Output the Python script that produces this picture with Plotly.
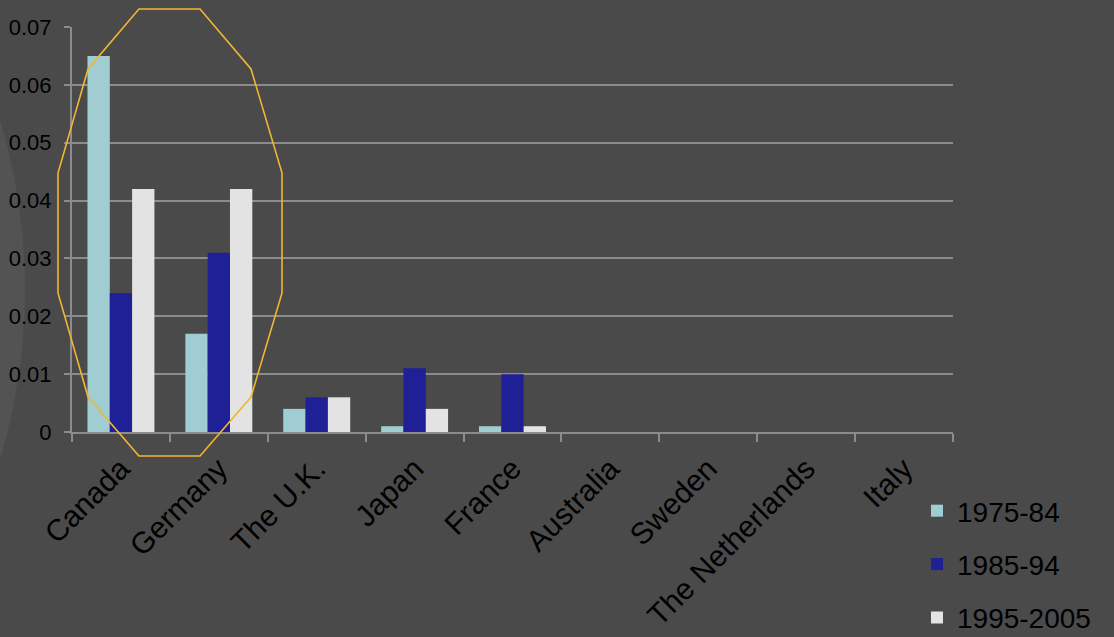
import plotly.graph_objects as go

countries = ["Canada", "Germany", "The U.K.", "Japan", "France", "Australia",
             "Sweden", "The Netherlands", "Italy"]
s1975 = [0.065, 0.017, 0.004, 0.001, 0.001, 0, 0, 0, 0]
s1985 = [0.024, 0.031, 0.006, 0.011, 0.010, 0, 0, 0, 0]
s1995 = [0.042, 0.042, 0.006, 0.004, 0.001, 0, 0, 0, 0]
series_names = ["1975-84", "1985-94", "1995-2005"]
colors = ["#9fcdd1", "#1f1f96", "#e3e3e3"]
y_ticks = [0, 0.01, 0.02, 0.03, 0.04, 0.05, 0.06, 0.07]
y_labels = ["0", "0.01", "0.02", "0.03", "0.04", "0.05", "0.06", "0.07"]

fig = go.Figure()
for i, (name, vals, col) in enumerate(zip(series_names, [s1975, s1985, s1995], colors)):
    fig.add_trace(go.Bar(x=countries, y=vals, name=name, marker=dict(color=col, line=dict(width=0)),
                         legendgroup=f"g{i}"))

L, R, T, B = 72, 161, 27, 205
W, H = 1114, 637
pw, ph = W - L - R, H - T - B

def px(x):
    return (x - L) / pw

def py(y):
    return (H - B - y) / ph

# background arc on the left
fig.add_shape(type="circle", xref="paper", yref="paper", layer="below",
              x0=px(-1155), x1=px(25), y0=py(880), y1=py(-300),
              fillcolor="#535353", line=dict(width=0))

# yellow octagon highlight
pts = [(139, 9), (200, 9), (251, 69), (282, 173), (282, 293), (251, 397),
       (200, 456), (139, 456), (88, 397), (58, 293), (58, 173), (88, 69)]
path = "M " + " L ".join(f"{px(x):.4f},{py(y):.4f}" for x, y in pts) + " Z"
fig.add_shape(type="path", xref="paper", yref="paper", path=path,
              line=dict(color="#f2b631", width=1.6), layer="above")

fig.update_layout(
    width=W, height=H,
    margin=dict(l=L, r=R, t=T, b=B, pad=0, autoexpand=False),
    paper_bgcolor="#4a4a4a", plot_bgcolor="#4a4a4a",
    barmode="group", bargap=0.316, bargroupgap=0,
    font=dict(family="Liberation Sans, Arial, sans-serif", color="#000000"),
    showlegend=True,
    legend=dict(x=px(917), y=py(486), xanchor="left", yanchor="top",
                font=dict(size=28, color="#000000"), bgcolor="rgba(0,0,0,0)",
                tracegroupgap=14, itemwidth=30),
    xaxis=dict(type="category", tickangle=-45, tickfont=dict(size=30),
               automargin=False, ticklabelstandoff=5,
               showline=True, linecolor="#8c8c8c", linewidth=2,
               ticks="outside", tickson="boundaries", ticklen=8, tickcolor="#8c8c8c",
               tickwidth=2, showgrid=False),
    yaxis=dict(range=[0, 0.07], tickvals=y_ticks, ticktext=y_labels, tickfont=dict(size=22),
               automargin=False, ticklabelstandoff=8,
               showgrid=True, gridcolor="#8c8c8c", gridwidth=2,
               showline=True, linecolor="#8c8c8c", linewidth=2,
               ticks="outside", ticklen=6, tickcolor="#8c8c8c", tickwidth=2,
               zeroline=False),
)

fig.write_html("out.html")
